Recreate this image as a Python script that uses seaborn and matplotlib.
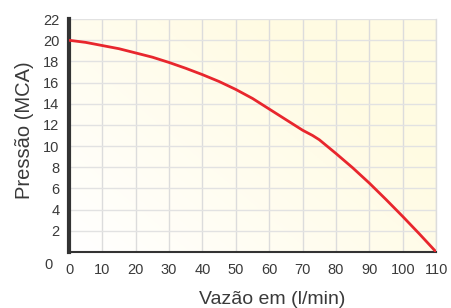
import numpy as np
import pandas as pd
import matplotlib
matplotlib.use("Agg")
import matplotlib.pyplot as plt
import seaborn as sns

flow = [0, 5, 10, 15, 20, 25, 30, 35, 40, 45, 50, 55, 60, 65, 70, 73, 75, 80, 85, 90, 95, 100, 105, 110]
pressure = [20.0, 19.8, 19.5, 19.2, 18.8, 18.4, 17.9, 17.35, 16.75, 16.1, 15.35, 14.5, 13.5, 12.5, 11.5, 11.0, 10.6, 9.3, 7.95, 6.5, 4.95, 3.35, 1.7, 0.0]
x_ticks = [0, 10, 20, 30, 40, 50, 60, 70, 80, 90, 100, 110]
y_ticks = [0, 2, 4, 6, 8, 10, 12, 14, 16, 18, 20, 22]

sns.set_theme(style="white")
plt.rcParams['font.family'] = ['Liberation Sans', 'DejaVu Sans']

df = pd.DataFrame({"Vazão": flow, "Pressão": pressure})

fig = plt.figure(figsize=(4.51, 3.08), dpi=100)
ax = fig.add_axes([0.153, 0.182, 0.814, 0.756])

# gradient background (white bottom-left to pale yellow top-right)
gx, gy = np.meshgrid(np.linspace(0, 1, 200), np.linspace(0, 1, 200))
t = np.clip((gx * 0.8 + gy * 0.6) / 1.0, 0, 1)
c0 = np.array([1.0, 1.0, 1.0])
c1 = np.array([1.0, 0.985, 0.89])
img = c0[None, None, :] * (1 - t[..., None]) + c1[None, None, :] * t[..., None]
ax.imshow(img, extent=[0, 110, 0, 22], origin="lower", aspect="auto", zorder=0)

for xv in x_ticks[1:]:
    ax.axvline(xv, color="#dcdcdc", lw=1.0, zorder=1)
for yv in y_ticks[1:]:
    ax.axhline(yv, color="#e2e2e2", lw=1.0, zorder=1)

sns.lineplot(data=df, x="Vazão", y="Pressão", ax=ax, color="#e8262d", lw=2.0, zorder=3)

ax.set_xlim(0, 110)
ax.set_ylim(0, 22)
ax.set_xticks(x_ticks)
ax.set_yticks(y_ticks)
ax.set_yticklabels([""] + [str(v) for v in y_ticks[1:]])
ax.tick_params(axis="both", length=0, labelsize=10.5, labelcolor="#3a3a3a")
ax.tick_params(axis="x", pad=8)
ax.tick_params(axis="y", pad=7)
ax.text(-0.044, -0.055, str(y_ticks[0]), transform=ax.transAxes, ha="right", va="center",
        fontsize=10.5, color="#3a3a3a")

ax.spines["top"].set_visible(False)
ax.spines["right"].set_color("#dcdcdc")
ax.spines["right"].set_linewidth(1.0)
ax.spines["left"].set_color("#333333")
ax.spines["left"].set_linewidth(3.0)
ax.spines["bottom"].set_color("#333333")
ax.spines["bottom"].set_linewidth(1.5)

ax.set_xlabel("Vazão em (l/min)", fontsize=14, color="#3a3a3a")
ax.set_ylabel("Pressão (MCA)", fontsize=14.5, color="#3a3a3a")
ax.xaxis.set_label_coords(0.553, -0.206)
ax.xaxis.label.set_va("center")
ax.yaxis.set_label_coords(-0.12, 0.524)
ax.yaxis.label.set_va("center")

fig.savefig("out.png", dpi=100)
